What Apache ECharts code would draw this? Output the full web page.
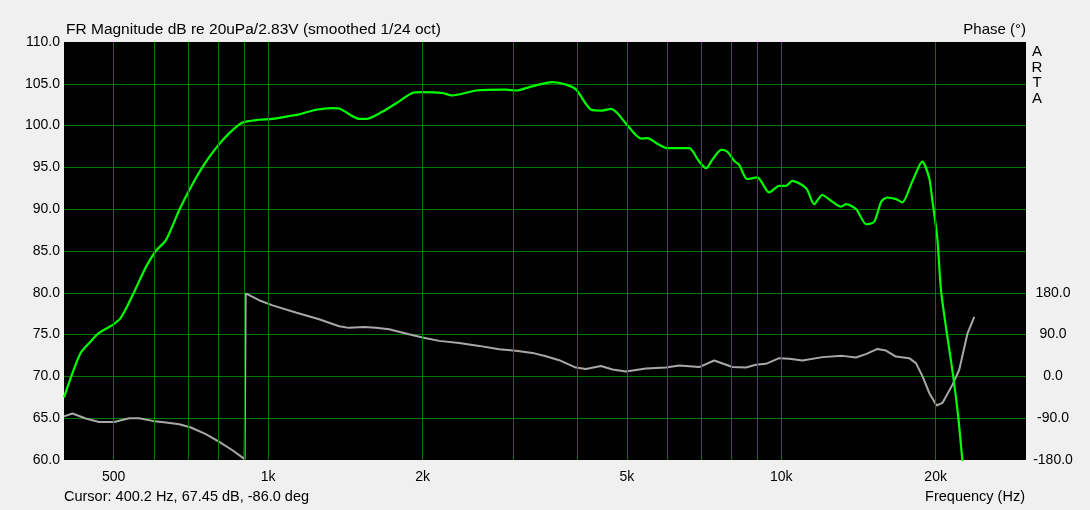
<!DOCTYPE html>
<html><head><meta charset="utf-8">
<script src="https://cdn.jsdelivr.net/npm/echarts@6/dist/echarts.min.js"></script>
<style>html,body{margin:0;padding:0;background:#f0f0f0}#c{width:1090px;height:510px}</style>
</head><body><div id="c"></div>
<script>
// Magnitude response (Hz, dB)
const magFreq = [400,415.5,431,448,468,496,516,548,578,604,632,671,702,744,791,840,890,960,1018,1114,1149,1240,1333,1375,1504,1552,1668,1800,1909,1996,2184,2284,2544,2910,3043,3271,3578,3809,3985,4263,4478,4663,4790,4988,5336,5482,5784,5996,6328,6618,6921,7142,7337,7638,7846,8096,8281,8584,8979,9476,9911,10226,10505,11187,11596,12020,12575,13092,13387,14003,14645,15180,15664,16093,16757,17214,18006,18835,19434,19699,20146,20511,21641,22131,22531,23000];
const magDb = [67.5,70.4,72.8,74.0,75.2,76.1,77.0,80.1,83.1,85.0,86.3,89.9,92.3,95.0,97.3,99.1,100.35,100.7,100.8,101.2,101.35,101.9,102.1,102.05,100.8,100.8,101.65,102.9,103.9,104.0,103.9,103.6,104.2,104.3,104.2,104.7,105.2,104.9,104.3,101.9,101.8,102.0,101.5,100.2,98.45,98.5,97.7,97.3,97.3,97.3,95.7,94.9,95.9,97.1,96.9,95.8,95.3,93.6,93.8,92.0,92.8,92.8,93.4,92.5,90.6,91.7,90.9,90.3,90.6,90.0,88.2,88.5,90.9,91.4,91.2,90.8,93.3,95.7,93.7,91.1,86.6,80.0,70.0,65.2,60.2,55.0];
// Phase response (Hz, degrees)
const phaseFreq = [400,415.5,441,468,501,536,560,595,632,671,707,756,803,852,900,904,960,1020,1132,1257,1375,1438,1539,1622,1721,1855,1999,2154,2357,2578,2820,3039,3275,3478,3692,3979,4163,4452,4691,4981,5450,5961,6328,6921,7403,8035,8534,8927,9337,9911,10366,11002,12036,13168,13983,14625,15406,16000,16734,17763,18307,18857,19434,20081,20630,21572,22233,23078,23780];
const phaseDeg = [-86,-80,-90.7,-98,-98,-90,-90,-95.8,-99.3,-103,-110,-124.4,-141,-159,-178,179,164,153,137.6,123,108,104.5,106.6,104.5,101.6,92.4,83.7,76.5,72,65.7,58.6,55,50.6,43.5,34.9,19,16,22.5,14.8,10.6,17,19.2,23.5,20.1,34.2,20.1,19.2,25,27.1,39.3,37.8,34.2,41.5,44.2,40.6,47.9,59.2,55.6,42.8,39.3,28.6,0,-35.5,-62.6,-56.9,-17.7,14.3,92.8,128.3];
// Frequency grid lines and their labels
const gridFreqs = [500,600,700,800,900,1000,2000,3000,4000,5000,6000,7000,8000,9000,10000,20000];
const freqLabels = {500:'500',1000:'1k',2000:'2k',5000:'5k',10000:'10k',20000:'20k'};

const FONT = 'Liberation Sans, Arial, sans-serif';
const GRID = '#007800';
const chart = echarts.init(document.getElementById('c'));
const markData = gridFreqs.map(f => ({
  xAxis: f,
  label: freqLabels[f] ? {show: true, formatter: freqLabels[f]} : {show: false}
}));
chart.setOption({
  backgroundColor: '#f0f0f0',
  animation: false,
  grid: {left: 64, right: 64, top: 42, bottom: 50, show: true, backgroundColor: '#000', borderWidth: 0},
  xAxis: {type: 'log', logBase: 10, min: 400, max: 30000,
    axisLine: {show: false}, axisTick: {show: false}, axisLabel: {show: false}, splitLine: {show: false}},
  yAxis: [
    {type: 'value', min: 60, max: 110, interval: 5, position: 'left',
      axisLine: {show: false}, axisTick: {show: false},
      axisLabel: {formatter: v => v.toFixed(1), color: '#000', fontSize: 14, fontFamily: FONT, margin: 4},
      splitLine: {show: true, showMinLine: false, showMaxLine: false, lineStyle: {color: GRID, width: 1}}},
    {type: 'value', min: -180, max: 720, interval: 90, position: 'right',
      axisLine: {show: false}, axisTick: {show: false},
      axisLabel: {formatter: v => v <= 180 ? v.toFixed(1) : '', color: '#000', fontSize: 14, fontFamily: FONT, margin: 27, align: 'center'},
      splitLine: {show: false}}
  ],
  series: [
    {type: 'line', data: [], z: 1, silent: true,
      markLine: {silent: true, symbol: 'none', animation: false, precision: 0,
        lineStyle: {color: GRID, width: 1, type: 'solid'},
        label: {position: 'start', distance: 10, color: '#000', fontSize: 14, fontFamily: FONT},
        emphasis: {disabled: true},
        data: markData}},
    {name: 'Phase', type: 'line', yAxisIndex: 1, z: 3, showSymbol: false, symbol: 'none', smooth: false,
      lineStyle: {color: '#a8a8a8', width: 2},
      data: phaseFreq.map((f, i) => [f, phaseDeg[i]])},
    {name: 'Magnitude', type: 'line', yAxisIndex: 0, z: 4, showSymbol: false, symbol: 'none', smooth: 0.25,
      clip: true, lineStyle: {color: '#00ff00', width: 2.2},
      data: magFreq.map((f, i) => [f, magDb[i]])}
  ],
  graphic: [
    {type: 'text', x: 66, y: 30, style: {text: 'FR Magnitude dB re 20uPa/2.83V (smoothed 1/24 oct)', font: '15.5px ' + FONT, fill: '#000', align: 'left', verticalAlign: 'middle'}},
    {type: 'text', x: 1026, y: 30, style: {text: 'Phase (°)', font: '15px ' + FONT, fill: '#000', align: 'right', verticalAlign: 'middle'}},
    {type: 'text', x: 1037, y: 52, style: {text: 'A', font: '15px ' + FONT, fill: '#000', align: 'center', verticalAlign: 'middle'}},
    {type: 'text', x: 1037, y: 68, style: {text: 'R', font: '15px ' + FONT, fill: '#000', align: 'center', verticalAlign: 'middle'}},
    {type: 'text', x: 1037, y: 83, style: {text: 'T', font: '15px ' + FONT, fill: '#000', align: 'center', verticalAlign: 'middle'}},
    {type: 'text', x: 1037, y: 99, style: {text: 'A', font: '15px ' + FONT, fill: '#000', align: 'center', verticalAlign: 'middle'}},
    {type: 'text', x: 64, y: 497, style: {text: 'Cursor: 400.2 Hz, 67.45 dB, -86.0 deg', font: '14.5px ' + FONT, fill: '#000', align: 'left', verticalAlign: 'middle'}},
    {type: 'text', x: 1025, y: 497, style: {text: 'Frequency (Hz)', font: '14.5px ' + FONT, fill: '#000', align: 'right', verticalAlign: 'middle'}}
  ]
});
</script></body></html>
